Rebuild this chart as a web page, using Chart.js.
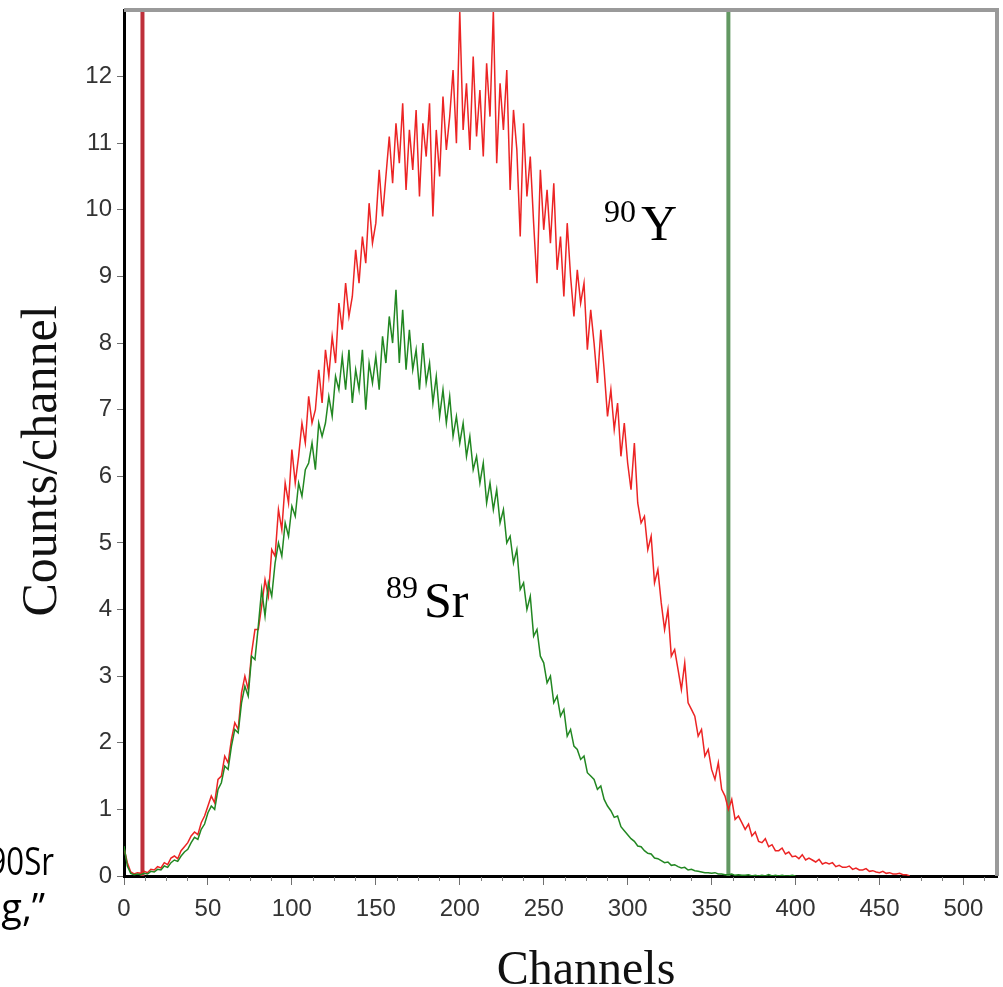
<!DOCTYPE html>
<html lang="en">
  <head>
    <meta charset="UTF-8" />
    <title>Counts/channel vs Channels</title>
    <script src="https://cdn.jsdelivr.net/npm/chart.js"></script>
    <style>
      html, body { margin: 0; padding: 0; background: #fff; }
      #wrap { width: 1003px; height: 987px; position: relative; overflow: hidden; }
    </style>
  </head>
  <body>
    <div id="wrap"><canvas id="myChart" width="1003" height="987"></canvas></div>

    <script>
      // channel numbers (every 2nd channel)
      const channels = [
        0, 2, 4, 6, 8, 10, 12, 14, 16, 18, 20, 22, 24, 26, 28, 30, 32, 34, 36, 38,
        40, 42, 44, 46, 48, 50, 52, 54, 56, 58, 60, 62, 64, 66, 68, 70, 72, 74, 76, 78,
        80, 82, 84, 86, 88, 90, 92, 94, 96, 98, 100, 102, 104, 106, 108, 110, 112, 114, 116, 118,
        120, 122, 124, 126, 128, 130, 132, 134, 136, 138, 140, 142, 144, 146, 148, 150, 152, 154, 156, 158,
        160, 162, 164, 166, 168, 170, 172, 174, 176, 178, 180, 182, 184, 186, 188, 190, 192, 194, 196, 198,
        200, 202, 204, 206, 208, 210, 212, 214, 216, 218, 220, 222, 224, 226, 228, 230, 232, 234, 236, 238,
        240, 242, 244, 246, 248, 250, 252, 254, 256, 258, 260, 262, 264, 266, 268, 270, 272, 274, 276, 278,
        280, 282, 284, 286, 288, 290, 292, 294, 296, 298, 300, 302, 304, 306, 308, 310, 312, 314, 316, 318,
        320, 322, 324, 326, 328, 330, 332, 334, 336, 338, 340, 342, 344, 346, 348, 350, 352, 354, 356, 358,
        360, 362, 364, 366, 368, 370, 372, 374, 376, 378, 380, 382, 384, 386, 388, 390, 392, 394, 396, 398,
        400, 402, 404, 406, 408, 410, 412, 414, 416, 418, 420, 422, 424, 426, 428, 430, 432, 434, 436, 438,
        440, 442, 444, 446, 448, 450, 452, 454, 456, 458, 460, 462, 464, 466, 468
      ];

      // 90Y spectrum (red), counts per channel
      const countsY90 = [
        0.42, 0.2, 0.06, 0.03, 0.05, 0.04, 0.07, 0.05, 0.1, 0.09,
        0.14, 0.12, 0.2, 0.17, 0.27, 0.3, 0.26, 0.38, 0.44, 0.5,
        0.6, 0.66, 0.62, 0.8, 0.9, 1.05, 1.2, 1.1, 1.45, 1.5,
        1.8, 1.7, 2.05, 2.3, 2.2, 2.75, 3.0, 2.8, 3.35, 3.7,
        3.7, 4.05, 4.45, 4.2, 4.9, 4.8, 5.5, 5.2, 5.9, 5.6,
        6.4, 5.9, 6.3, 6.8, 6.5, 7.2, 6.8, 7.0, 7.6, 7.1,
        7.9, 7.5, 8.1, 7.7, 8.6, 8.2, 8.9, 8.4, 8.7, 9.4,
        8.9, 9.6, 9.2, 10.1, 9.5, 9.8, 10.6, 9.9, 10.5, 11.1,
        10.4, 11.3, 10.7, 11.6, 10.3, 11.2, 10.6, 11.5, 10.2, 11.3,
        10.8, 11.6, 9.9, 11.2, 10.5, 11.7, 10.9, 11.4, 12.1, 11.0,
        12.98, 11.2, 11.9, 10.9, 12.3, 11.1, 11.8, 10.8, 12.2, 11.4,
        12.99, 10.7, 11.9, 11.2, 12.1, 10.3, 11.5, 10.9, 9.6, 11.3,
        10.2, 10.8, 9.8, 8.9, 10.6, 9.7, 10.3, 9.5, 10.4, 9.1,
        9.6, 8.7, 9.8, 9.0, 8.4, 9.1, 8.6, 8.9, 7.9, 8.5,
        8.0, 7.4, 8.2, 7.6, 6.9, 7.3, 6.7, 7.1, 6.3, 6.8,
        6.2, 5.8, 6.5, 5.6, 5.3, 5.4, 4.9, 5.1, 4.4, 4.6,
        4.1, 3.7, 4.0, 3.3, 3.4, 3.1, 2.8, 3.2, 2.6, 2.5,
        2.4, 2.1, 2.2, 1.8, 1.9, 1.6, 1.45, 1.7, 1.3, 1.2,
        1.0, 1.15, 0.85, 0.9, 0.8, 0.7, 0.78, 0.6, 0.66, 0.52,
        0.5, 0.56, 0.44, 0.47, 0.38, 0.38, 0.42, 0.33, 0.36, 0.29,
        0.3, 0.26, 0.32, 0.24, 0.27, 0.24, 0.21, 0.25, 0.18, 0.2,
        0.18, 0.2, 0.14, 0.16, 0.13, 0.13, 0.15, 0.1, 0.12, 0.09,
        0.09, 0.11, 0.07, 0.08, 0.06, 0.05, 0.07, 0.04, 0.05, 0.03,
        0.03, 0.04, 0.02, 0.02, 0
      ];

      // 89Sr spectrum (green), channels 0-400
      const countsSr89 = [
        0.45, 0.15, 0.04, 0.02, 0.03, 0.02, 0.04, 0.03, 0.07, 0.06,
        0.1, 0.09, 0.15, 0.13, 0.2, 0.24, 0.22, 0.3, 0.36, 0.4,
        0.5, 0.58, 0.55, 0.7, 0.78, 0.95, 1.05, 1.0, 1.3, 1.4,
        1.65, 1.6, 1.95, 2.2, 2.15, 2.6, 2.85, 2.7, 3.3, 3.25,
        3.75, 4.3, 3.9, 4.4, 4.2, 4.7, 5.0, 4.8, 5.3, 5.1,
        5.55, 5.4, 5.9, 5.7, 6.1, 6.2, 6.5, 6.1, 6.8, 6.6,
        6.8, 7.2, 6.9, 7.5, 7.3, 7.8, 7.3, 7.9, 7.1, 7.6,
        7.3, 7.9, 7.0, 7.7, 7.4, 7.8, 7.3, 8.1, 7.7, 8.4,
        8.0, 8.8, 7.7, 8.5, 7.6, 8.2, 7.6, 7.9, 7.3, 8.0,
        7.4, 7.7, 7.1, 7.5, 6.9, 7.3, 6.8, 7.2, 6.6, 6.9,
        6.5, 6.8, 6.3, 6.6, 6.1, 6.3, 5.9, 6.2, 5.6, 5.9,
        5.5, 5.8, 5.3, 5.5, 5.0, 5.1, 4.7, 4.9, 4.3, 4.4,
        4.0, 4.2, 3.6, 3.7, 3.3, 3.2, 2.9, 3.0, 2.6, 2.7,
        2.4, 2.5, 2.1, 2.2, 1.95, 1.9, 1.75, 1.8, 1.55, 1.5,
        1.45, 1.3, 1.35, 1.15, 1.05, 0.98, 0.88, 0.9, 0.74, 0.68,
        0.62, 0.56, 0.52, 0.45, 0.44, 0.38, 0.34, 0.33, 0.27, 0.26,
        0.23, 0.2, 0.21, 0.16, 0.17, 0.14, 0.12, 0.13, 0.09, 0.1,
        0.08, 0.07, 0.06, 0.05, 0.05, 0.04, 0.05, 0.03, 0.03, 0.02,
        0.02, 0.03, 0.01, 0.02, 0.01, 0.01, 0.02, 0, 0.01, 0,
        0.01, 0, 0.02, 0, 0.01, 0, 0.01, 0, 0, 0.01,
        0
      ];

      // window limits (vertical markers)
      const markerLow = 11;
      const markerHigh = 360;

      const xTicks = [0, 50, 100, 150, 200, 250, 300, 350, 400, 450, 500];
      const yTicks = [0, 1, 2, 3, 4, 5, 6, 7, 8, 9, 10, 11, 12];

      const toPoints = (vals) => vals.map((v, i) => ({ x: channels[i], y: v }));

      // frame, minor ticks, labels and axis titles
      const decor = {
        id: "decor",
        afterDraw(chart) {
          const { ctx, chartArea: a, scales } = chart;
          const x = scales.x;
          ctx.save();

          // minor ticks on the channel axis
          ctx.strokeStyle = "#808080";
          ctx.lineWidth = 1;
          for (let c = 12.5; c < 520; c += 12.5) {
            if (c % 50 === 0) continue;
            const px = Math.round(x.getPixelForValue(c)) + 0.5;
            ctx.beginPath();
            ctx.moveTo(px, a.bottom + 1);
            ctx.lineTo(px, a.bottom + 5);
            ctx.stroke();
          }

          // grey frame top + right
          ctx.strokeStyle = "#9a9a9a";
          ctx.lineWidth = 4;
          ctx.beginPath();
          ctx.moveTo(a.left, a.top);
          ctx.lineTo(a.right, a.top);
          ctx.lineTo(a.right, a.bottom);
          ctx.stroke();

          // peak labels
          ctx.fillStyle = "#000";
          ctx.textBaseline = "alphabetic";
          ctx.textAlign = "left";
          ctx.font = '32px "Liberation Serif"';
          ctx.fillText("90", 604, 222);
          ctx.fillText("89", 386, 598);
          ctx.font = '50px "Liberation Serif"';
          ctx.fillText("Y", 641, 240);
          ctx.fillText("Sr", 424, 617);

          // axis titles
          ctx.fillStyle = "#111";
          ctx.textAlign = "center";
          ctx.font = '48px "Liberation Serif"';
          ctx.fillText("Channels", 586, 984);
          ctx.translate(56, 461);
          ctx.rotate(-Math.PI / 2);
          ctx.font = '50px "Liberation Serif"';
          ctx.fillText("Counts/channel", 0, 0);
          ctx.restore();

          // cut-off slide text on the left
          ctx.save();
          ctx.fillStyle = "#000";
          ctx.textAlign = "right";
          ctx.font = '38px "Open Sans"';
          ctx.fillText("g,\u201D", 45, 921);
          ctx.scale(0.82, 1);
          ctx.fillText("90Sr", 54 / 0.82, 875);
          ctx.restore();
        },
      };

      const ctx = document.getElementById("myChart");

      new Chart(ctx, {
        type: "line",
        data: {
          datasets: [
            {
              label: "89Sr",
              data: toPoints(countsSr89),
              borderColor: "rgb(34, 135, 34)",
              borderWidth: 1.5,
              pointRadius: 0,
              order: 1,
            },
            {
              label: "90Y",
              data: toPoints(countsY90),
              borderColor: "rgb(236, 36, 36)",
              borderWidth: 1.5,
              pointRadius: 0,
              order: 2,
            },
            {
              label: "low limit",
              data: [
                { x: markerLow, y: 0 },
                { x: markerLow, y: 13 },
              ],
              borderColor: "rgb(190, 48, 58)",
              borderWidth: 4,
              pointRadius: 0,
              order: 3,
            },
            {
              label: "high limit",
              data: [
                { x: markerHigh, y: 0 },
                { x: markerHigh, y: 13 },
              ],
              borderColor: "rgb(98, 152, 98)",
              borderWidth: 4,
              pointRadius: 0,
              order: 3,
            },
          ],
        },
        options: {
          responsive: false,
          animation: false,
          layout: { padding: { left: 0, right: 6, top: 10, bottom: 0 } },
          plugins: {
            legend: { display: false },
            tooltip: { enabled: false },
          },
          scales: {
            x: {
              type: "linear",
              min: 0,
              max: 520,
              afterBuildTicks: (s) => {
                s.ticks = xTicks.map((v) => ({ value: v }));
              },
              afterFit: (s) => {
                s.height = 111;
                s.paddingLeft = 0;
                s.paddingRight = 0;
              },
              ticks: {
                autoSkip: false,
                maxRotation: 0,
                padding: 10,
                color: "#333",
                font: { family: "Liberation Sans", size: 24 },
              },
              grid: {
                drawOnChartArea: false,
                tickLength: 9,
                tickColor: "#707070",
              },
              border: { display: true, color: "#000", width: 3 },
            },
            y: {
              type: "linear",
              min: 0,
              max: 13,
              afterBuildTicks: (s) => {
                s.ticks = yTicks.map((v) => ({ value: v }));
              },
              afterFit: (s) => {
                s.width = 124;
                s.paddingTop = 0;
                s.paddingBottom = 0;
              },
              ticks: {
                padding: 5,
                color: "#333",
                font: { family: "Liberation Sans", size: 24 },
              },
              grid: {
                drawOnChartArea: false,
                tickLength: 7,
                tickColor: "#707070",
              },
              border: { display: true, color: "#000", width: 3 },
            },
          },
        },
        plugins: [decor],
      });
    </script>
  </body>
</html>
